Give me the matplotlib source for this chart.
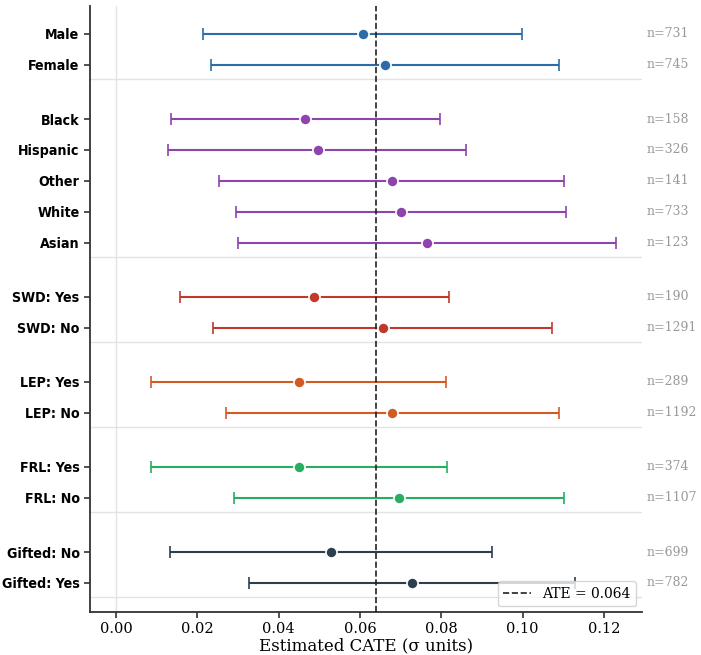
import matplotlib
matplotlib.use("Agg")
import matplotlib.pyplot as plt
from matplotlib import font_manager

# ----------------------------
# DATA
# ----------------------------
labels = ["Male", "Female",
          "Black", "Hispanic", "Other", "White", "Asian",
          "SWD: Yes", "SWD: No",
          "LEP: Yes", "LEP: No",
          "FRL: Yes", "FRL: No",
          "Gifted: No", "Gifted: Yes"]
group_sizes = [2, 5, 2, 2, 2, 2]
group_colors = ["#2d6ca6", "#8e44ad", "#c0392b", "#d35b22", "#27ae60", "#2c3e50"]

cate = [0.0607, 0.0662,
        0.0465, 0.0496, 0.0679, 0.0702, 0.0766,
        0.0487, 0.0656,
        0.0449, 0.0679,
        0.0450, 0.0697,
        0.0528, 0.0729]
ci_low = [0.0215, 0.0233,
          0.0134, 0.0127, 0.0254, 0.0296, 0.0300,
          0.0158, 0.0238,
          0.0085, 0.0270,
          0.0086, 0.0289,
          0.0132, 0.0328]
ci_high = [0.0999, 0.1090,
           0.0796, 0.0862, 0.1103, 0.1108, 0.1231,
           0.0819, 0.1073,
           0.0812, 0.1089,
           0.0814, 0.1103,
           0.0926, 0.1130]
n_obs = [731, 745, 158, 326, 141, 733, 123, 190, 1291, 289, 1192, 374, 1107, 699, 782]
ate = 0.064

# ----------------------------
# LAYOUT (row positions with gaps between groups)
# ----------------------------
ypos, colors, seps = [], [], []
y = 0.0
for g, size in enumerate(group_sizes):
    for i in range(size):
        ypos.append(y)
        colors.append(group_colors[g])
        y += 1
    seps.append(ypos[-1] + 0.47)
    y += 0.75

# condensed bold font for the row labels, if there is one
cond_path = None
for f in font_manager.fontManager.ttflist:
    if "condensed" in f.fname.lower() and f.weight in (700, "bold") and "Sans" in f.name:
        cond_path = f.fname
        break
if cond_path:
    label_font = font_manager.FontProperties(fname=cond_path, size=10.2)
else:
    label_font = font_manager.FontProperties(family="DejaVu Sans", weight="bold",
                                             stretch="condensed", size=10)

# ----------------------------
# PLOT
# ----------------------------
fig = plt.figure(figsize=(7.01, 6.55), dpi=100)
ax = fig.add_axes([0.1284, 0.0656, 0.787, 0.925])

ax.axvline(0, color="#e3e3e3", lw=1, zorder=0)
for s in seps:
    ax.axhline(s, color="#e3e3e3", lw=1, zorder=0)

for yy, c, lo, hi, col in zip(ypos, cate, ci_low, ci_high, colors):
    ax.errorbar(c, yy, xerr=[[c - lo], [hi - c]], fmt="o", color=col,
                ecolor=col, elinewidth=1.5, capsize=4.5, capthick=1.5,
                markersize=8, markeredgecolor="white", markeredgewidth=1.2,
                zorder=3)

ax.axvline(ate, color="#222222", ls="--", lw=1.2, zorder=4,
           label=f"ATE = {ate:.3f}")

for yy, n in zip(ypos, n_obs):
    ax.text(1.008, yy, f"n={n}", transform=ax.get_yaxis_transform(),
            va="center", ha="left", fontsize=9, color="#999999",
            family="DejaVu Serif")

ax.set_yticks(ypos)
ax.set_yticklabels(labels)
for t in ax.get_yticklabels():
    t.set_fontproperties(label_font)

ax.set_xlim(-0.0064, 0.1293)
ax.set_ylim(18.69, -0.9)
ax.set_xticks([0.00, 0.02, 0.04, 0.06, 0.08, 0.10, 0.12])
ax.set_xticklabels([f"{v:.2f}" for v in ax.get_xticks()],
                   family="DejaVu Serif", fontsize=10.5)
ax.set_xlabel("Estimated CATE (σ units)", family="DejaVu Serif", fontsize=12,
              labelpad=1)

for side in ["top", "right"]:
    ax.spines[side].set_visible(False)
for side in ["left", "bottom"]:
    ax.spines[side].set_color("#333333")
    ax.spines[side].set_linewidth(1.3)
ax.tick_params(axis="both", color="#333333", length=4, width=1.2)
ax.tick_params(axis="x", pad=3)

leg = ax.legend(loc="lower right", prop={"family": "DejaVu Serif", "size": 10},
                frameon=True, fancybox=True, borderaxespad=0.4)
leg.get_frame().set_edgecolor("#cccccc")

fig.savefig("out.png", dpi=100)
